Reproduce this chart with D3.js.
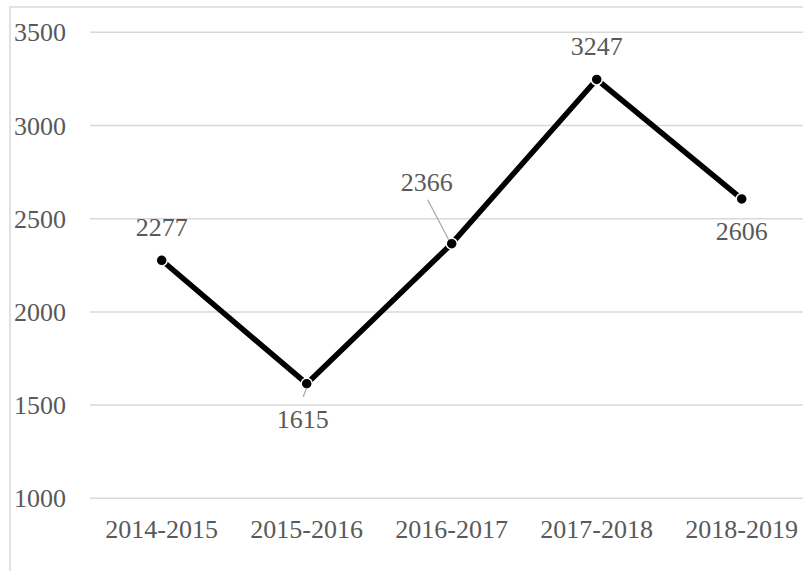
<!DOCTYPE html>
<html>
<head>
<meta charset="utf-8">
<script src="https://cdn.jsdelivr.net/npm/d3@7"></script>
<style>
  html, body { margin: 0; padding: 0; background: #fff; }
  svg { display: block; }
</style>
</head>
<body>
<script>
const categories = ["2014-2015", "2015-2016", "2016-2017", "2017-2018", "2018-2019"];
const values = [2277, 1615, 2366, 3247, 2606];
const yTicks = [1000, 1500, 2000, 2500, 3000, 3500];
// label placement: "above", "below", "leaderBelow", "leaderAboveLeft"
const labelPlacement = ["above", "leaderBelow", "leaderAboveLeft", "above", "below"];

const FONT = "'Liberation Serif', 'Times New Roman', Times, Tinos, 'DejaVu Serif', serif";
const W = 803, H = 571;
const svg = d3.select("body").append("svg").attr("width", W).attr("height", H);

// chart border
svg.append("rect")
  .attr("x", 10).attr("y", 7).attr("width", W + 20).attr("height", H + 20)
  .attr("fill", "none").attr("stroke", "#d9d9d9").attr("stroke-width", 1.5);

const x = d3.scaleBand().domain(categories).range([89.2, 89.2 + 145 * 5]).paddingInner(0).paddingOuter(0);
const y = d3.scaleLinear().domain([1000, 3500]).range([498.3, 32.3]);

// gridlines
svg.append("g").selectAll("line").data(yTicks).join("line")
  .attr("x1", 90).attr("x2", W + 20)
  .attr("y1", d => y(d)).attr("y2", d => y(d))
  .attr("stroke", "#d9d9d9").attr("stroke-width", 1.5);

// y-axis labels
const yAxis = d3.axisLeft(y).tickValues(yTicks).tickSize(0).tickPadding(0).tickFormat(d3.format("d"));
const gy = svg.append("g").attr("transform", "translate(66,0)").call(yAxis)
  .attr("font-family", null).attr("font-size", null);
gy.select(".domain").remove();
gy.selectAll("text").attr("fill", "#595959").attr("dy", "0.33em")
  .style("font-family", FONT).style("font-size", "26px");

// x-axis labels
const xAxis = d3.axisBottom(x).tickSize(0).tickPadding(0);
const gx = svg.append("g").attr("transform", "translate(0,538)").call(xAxis)
  .attr("font-family", null).attr("font-size", null);
gx.select(".domain").remove();
gx.selectAll("text").attr("fill", "#595959").attr("dy", 0)
  .style("font-family", FONT).style("font-size", "26px");

const cx = d => x(d) + x.bandwidth() / 2;
const data = categories.map((c, i) => ({ c, v: values[i], p: labelPlacement[i] }));

// line
const line = d3.line().x(d => cx(d.c)).y(d => y(d.v));
svg.append("path").datum(data).attr("d", line)
  .attr("fill", "none").attr("stroke", "#000").attr("stroke-width", 5.5)
  .attr("stroke-linejoin", "round");

// markers
svg.append("g").selectAll("circle").data(data).join("circle")
  .attr("cx", d => cx(d.c)).attr("cy", d => y(d.v)).attr("r", 5.5)
  .attr("fill", "#000").attr("stroke", "#fff").attr("stroke-width", 1.5);

// leader lines
data.forEach(d => {
  const px = cx(d.c), py = y(d.v);
  if (d.p === "leaderBelow") {
    svg.append("line").attr("x1", px).attr("y1", py + 4).attr("x2", px - 3.5).attr("y2", py + 13)
      .attr("stroke", "#a6a6a6").attr("stroke-width", 1.2);
  } else if (d.p === "leaderAboveLeft") {
    svg.append("line").attr("x1", px - 3).attr("y1", py - 4).attr("x2", px - 24).attr("y2", py - 44)
      .attr("stroke", "#a6a6a6").attr("stroke-width", 1.2);
  }
});

// data labels
svg.append("g").selectAll("text").data(data).join("text")
  .attr("text-anchor", "middle").attr("fill", "#595959")
  .style("font-family", FONT).style("font-size", "26px")
  .attr("x", d => {
    const px = cx(d.c);
    if (d.p === "leaderBelow") return px - 4;
    if (d.p === "leaderAboveLeft") return px - 25;
    return px;
  })
  .attr("y", d => {
    const py = y(d.v);
    if (d.p === "above") return py - 24;
    if (d.p === "below") return py + 41;
    if (d.p === "leaderBelow") return py + 44;
    return py - 53;
  })
  .text(d => d.v);
</script>
</body>
</html>
